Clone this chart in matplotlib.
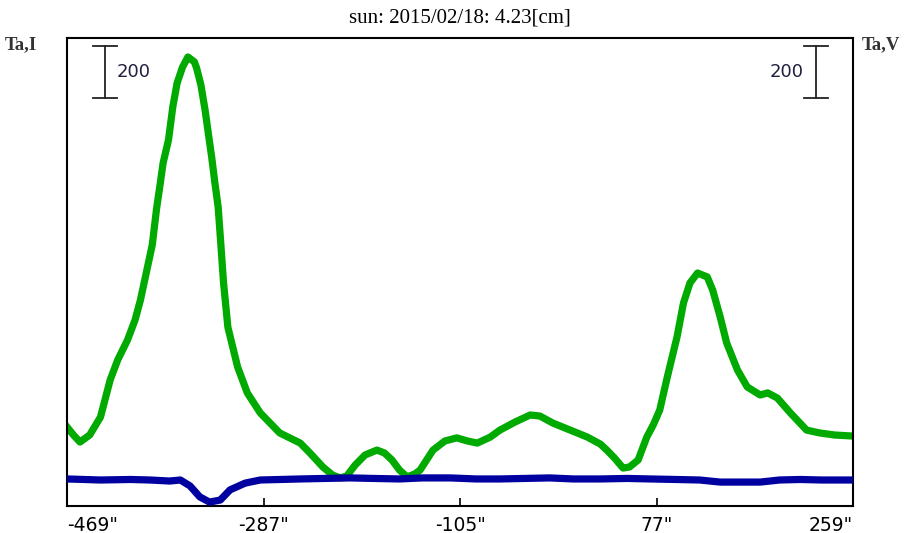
import numpy as np
import matplotlib
matplotlib.use('Agg')
import matplotlib.pyplot as plt
import matplotlib.transforms as mtransforms

# position in arcsec and antenna temperature for channel I (green)
pos_i = [-469, -463, -457, -448, -438, -429, -422, -413, -406, -401, -395, -390,
         -386, -383, -380, -375, -371, -367, -362, -357, -351, -349, -345, -341,
         -338, -335, -332, -329, -327, -324, -320, -311, -302, -290, -272, -253,
         -244, -232, -223, -216, -210, -202, -193, -182, -175, -168, -161, -154,
         -147, -142, -130, -119, -108, -98, -89, -77, -68, -54, -40, -31, -19,
         -3, 13, 25, 31, 38, 46, 52, 60, 68, 74, 80, 87, 96, 102, 108, 115,
         124, 129, 136, 142, 152, 161, 173, 180, 189, 201, 216, 228, 242, 259]
ta_i = [204, 173, 146, 173, 242, 385, 462, 538, 615, 692, 808, 905,
        1045, 1130, 1219, 1308, 1435, 1527, 1588, 1627, 1608, 1585, 1520, 1420,
        1330, 1242, 1142, 1050, 935, 758, 588, 435, 335, 258, 181, 142,
        104, 50, 19, 8, 15, 58, 96, 115, 104, 77, 38, 12,
        23, 38, 115, 150, 162, 150, 142, 165, 192, 223, 250, 246, 219,
        192, 165, 138, 115, 85, 46, 50, 77, 165, 212, 269, 396, 550, 681, 758, 796,
        781, 731, 627, 527, 423, 358, 327, 335, 315, 258, 192, 181, 173, 169]

# channel V (blue)
pos_v = [-469, -438, -410, -392, -374, -364, -355, -346, -337, -327, -318, -304, -290,
         -253, -230, -207, -185, -161, -140, -114, -90, -68, -45, -22, 0, 25, 50, 71,
         95, 117, 136, 155, 173, 191, 210, 230, 259]
ta_v = [4, 0, 2, 0, -4, 0, -23, -65, -85, -77, -38, -12, 0,
        4, 6, 8, 6, 4, 8, 8, 4, 4, 6, 8, 4, 4, 6, 4,
        2, 0, -8, -8, -8, 0, 2, 0, 0]

xticks = [-469, -287, -105, 77, 259]
xtick_labels = ['-469"', '-287"', '-105"', '77"', '259"']
scale_val = 200
title = 'sun: 2015/02/18: 4.23[cm]'

fig = plt.figure(figsize=(9.24, 5.33), dpi=100)
ax = fig.add_axes([67 / 924, 1 - 506 / 533, 786 / 924, 468 / 533])

ax.plot(pos_i, ta_i, color='#00aa00', lw=5.2, solid_joinstyle='round', zorder=2)
ax.plot(pos_v, ta_v, color='#0000a0', lw=5.2, solid_joinstyle='round', zorder=3)

ax.set_xlim(-469, 259)
ax.set_ylim(-100, 1700)
ax.set_yticks([])
ax.set_xticks(xticks)
ax.set_xticklabels(xtick_labels, fontsize=13.5, family='DejaVu Sans')
ax.tick_params(axis='x', direction='in', length=6, width=1.2, pad=7)
labels = ax.get_xticklabels()
labels[0].set_ha('left')
labels[-1].set_ha('right')
for s in ax.spines.values():
    s.set_linewidth(1.5)

# scale bars (200 units)
trans = mtransforms.blended_transform_factory(ax.transAxes, ax.transData)
y0 = 1469
for xf, tx, ha in [(0.048, 0.063, 'left'), (0.953, 0.937, 'right')]:
    ax.plot([xf, xf], [y0, y0 + scale_val], color='#222222', lw=1.3, transform=trans)
    for yy in (y0, y0 + scale_val):
        ax.plot([xf - 0.015, xf + 0.015], [yy, yy], color='#222222', lw=1.3, transform=trans)
    ax.text(tx, y0 + scale_val / 2, str(scale_val), transform=trans, ha=ha, va='center',
            fontsize=13, family='DejaVu Sans', color='#202040')

fig.text(460 / 924, 1 - 18 / 533, title, ha='center', va='center',
         fontsize=15, family='Liberation Serif')
fig.text(5 / 924, 1 - 45 / 533, 'Ta,I', ha='left', va='center',
         fontsize=13.5, family='Liberation Serif', weight='bold', color='#333333')
fig.text(862 / 924, 1 - 45 / 533, 'Ta,V', ha='left', va='center',
         fontsize=13.5, family='Liberation Serif', weight='bold', color='#333333')

fig.savefig('out.png', dpi=100)
